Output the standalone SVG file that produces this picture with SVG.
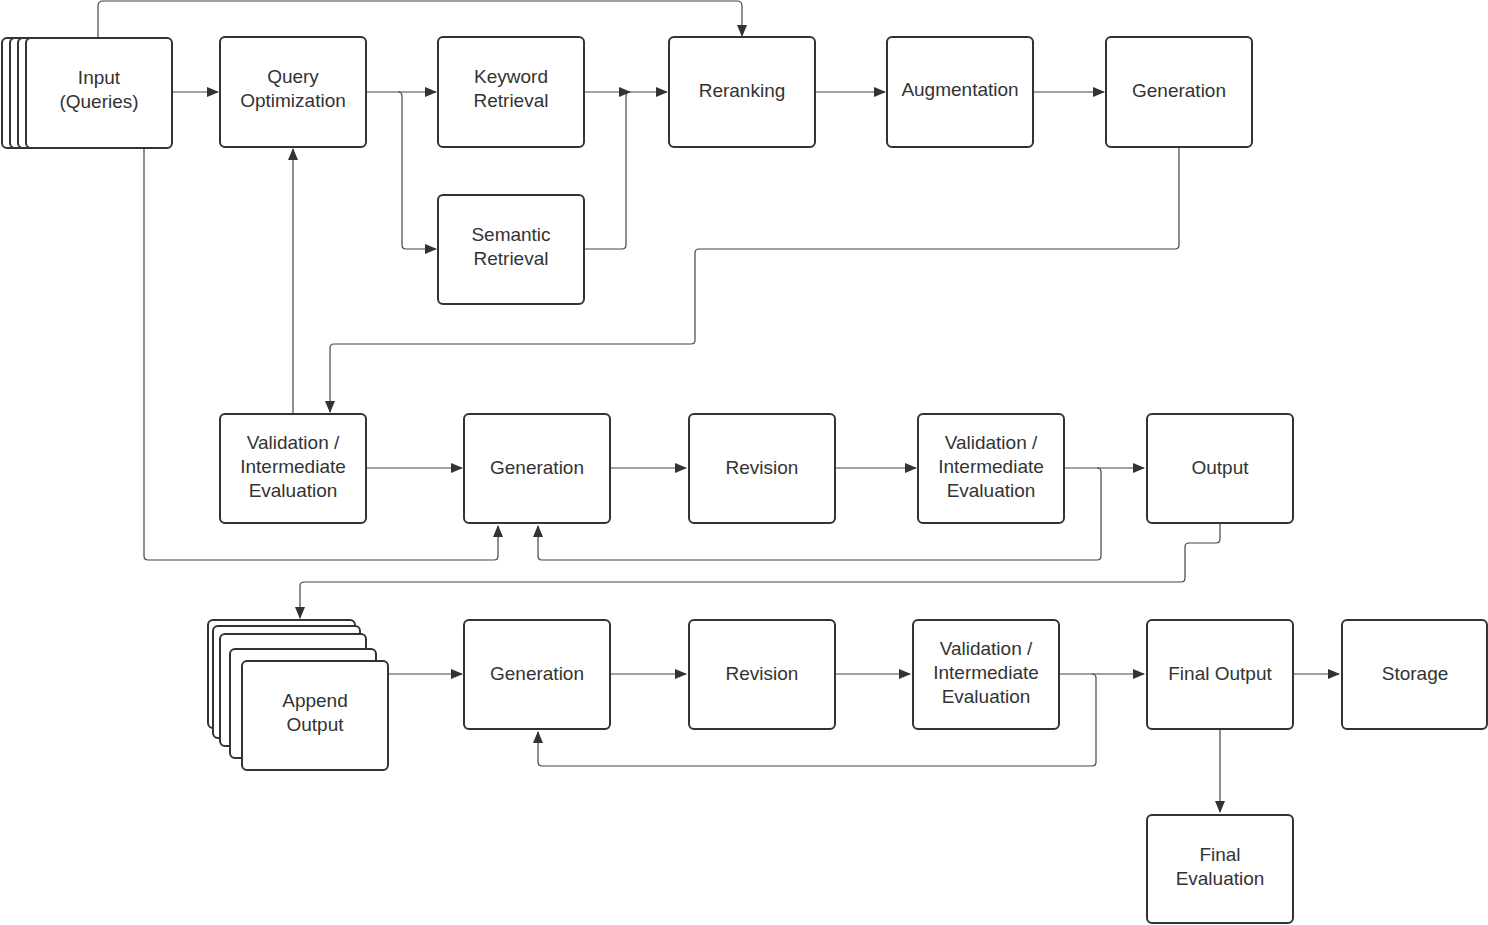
<svg xmlns="http://www.w3.org/2000/svg" width="1488" height="925" viewBox="0 0 1488 925">
<defs>
<marker id="a" markerWidth="12" markerHeight="10" refX="11" refY="5" orient="auto" markerUnits="userSpaceOnUse"><path d="M0,0 L12,5 L0,10 Z" fill="#333"/></marker>
<style>
rect{fill:#fff;stroke:#333;stroke-width:2}
text{font-family:"Liberation Sans",Arial,sans-serif;font-size:19px;fill:#333;text-anchor:middle}
.c path{fill:none;stroke:#444;stroke-width:1.2;marker-end:url(#a)}
.c path.n{marker-end:none}
</style>
</defs>
<rect x="0" y="0" width="1488" height="925" style="fill:#fff;stroke:none"/>
<g class="c">
<path d="M98,38 V6 Q98,1 103,1 H737 Q742,1 742,6 V36"/>
<path d="M172,92 H218"/>
<path d="M366,92 H436"/>
<path d="M398,92 Q402,92 402,96 V245 Q402,249 406,249 H436"/>
<path d="M584,92 H667"/>
<path d="M584,249 H622 Q626,249 626,245 V96 Q626,92 630,92"/>
<path d="M815,92 H885"/>
<path d="M1033,92 H1104"/>
<path d="M1179,147 V245 Q1179,249 1175,249 H699 Q695,249 695,253 V340 Q695,344 691,344 H334 Q330,344 330,348 V412"/>
<path d="M293,414 V149"/>
<path d="M144,148 V556 Q144,560 148,560 H494 Q498,560 498,556 V526"/>
<path d="M366,468 H462"/>
<path d="M610,468 H686"/>
<path d="M835,468 H916"/>
<path d="M1064,468 H1144"/>
<path d="M1097,468 Q1101,468 1101,472 V556 Q1101,560 1097,560 H542 Q538,560 538,556 V526"/>
<path d="M1220,523 V539 Q1220,543 1216,543 H1189 Q1185,543 1185,547 V578 Q1185,582 1181,582 H304 Q300,582 300,586 V618"/>
<path d="M388,674 H462"/>
<path d="M610,674 H686"/>
<path d="M835,674 H910"/>
<path d="M1059,674 H1144"/>
<path d="M1092,674 Q1096,674 1096,678 V762 Q1096,766 1092,766 H542 Q538,766 538,762 V732"/>
<path d="M1293,674 H1339"/>
<path d="M1220,729 V812"/>
</g>
<g id="input">
<rect x="2" y="38" width="146" height="110" rx="5"/>
<rect x="10" y="38" width="146" height="110" rx="5"/>
<rect x="18" y="38" width="146" height="110" rx="5"/>
<rect x="26" y="38" width="146" height="110" rx="5"/>
<text x="99" y="84">Input</text><text x="99" y="108">(Queries)</text>
</g>
<g id="query"><rect x="220" y="37" width="146" height="110" rx="5"/><text x="293" y="83">Query</text><text x="293" y="107">Optimization</text></g>
<g id="keyword"><rect x="438" y="37" width="146" height="110" rx="5"/><text x="511" y="83">Keyword</text><text x="511" y="107">Retrieval</text></g>
<g id="semantic"><rect x="438" y="195" width="146" height="109" rx="5"/><text x="511" y="241">Semantic</text><text x="511" y="265">Retrieval</text></g>
<g id="rerank"><rect x="669" y="37" width="146" height="110" rx="5"/><text x="742" y="97">Reranking</text></g>
<g id="augment"><rect x="887" y="37" width="146" height="110" rx="5"/><text x="960" y="96">Augmentation</text></g>
<g id="gen1"><rect x="1106" y="37" width="146" height="110" rx="5"/><text x="1179" y="97">Generation</text></g>
<g id="val1"><rect x="220" y="414" width="146" height="109" rx="5"/><text x="293" y="449">Validation /</text><text x="293" y="473">Intermediate</text><text x="293" y="497">Evaluation</text></g>
<g id="gen2"><rect x="464" y="414" width="146" height="109" rx="5"/><text x="537" y="474">Generation</text></g>
<g id="rev2"><rect x="689" y="414" width="146" height="109" rx="5"/><text x="762" y="474">Revision</text></g>
<g id="val2"><rect x="918" y="414" width="146" height="109" rx="5"/><text x="991" y="449">Validation /</text><text x="991" y="473">Intermediate</text><text x="991" y="497">Evaluation</text></g>
<g id="output"><rect x="1147" y="414" width="146" height="109" rx="5"/><text x="1220" y="474">Output</text></g>
<g id="append">
<rect x="208" y="620" width="147" height="108" rx="5"/>
<rect x="213" y="626" width="147" height="112" rx="5"/>
<rect x="220" y="634" width="146" height="112" rx="5"/>
<rect x="230" y="649" width="146" height="109" rx="5"/>
<rect x="242" y="661" width="146" height="109" rx="5"/>
<text x="315" y="707">Append</text><text x="315" y="731">Output</text>
</g>
<g id="gen3"><rect x="464" y="620" width="146" height="109" rx="5"/><text x="537" y="680">Generation</text></g>
<g id="rev3"><rect x="689" y="620" width="146" height="109" rx="5"/><text x="762" y="680">Revision</text></g>
<g id="val3"><rect x="913" y="620" width="146" height="109" rx="5"/><text x="986" y="655">Validation /</text><text x="986" y="679">Intermediate</text><text x="986" y="703">Evaluation</text></g>
<g id="final"><rect x="1147" y="620" width="146" height="109" rx="5"/><text x="1220" y="680">Final Output</text></g>
<g id="storage"><rect x="1342" y="620" width="145" height="109" rx="5"/><text x="1415" y="680">Storage</text></g>
<g id="finaleval"><rect x="1147" y="815" width="146" height="108" rx="5"/><text x="1220" y="861">Final</text><text x="1220" y="885">Evaluation</text></g>
</svg>
